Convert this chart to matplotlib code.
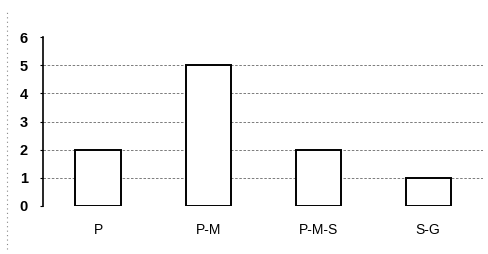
import matplotlib
matplotlib.use("Agg")
import matplotlib.pyplot as plt

categories = ["P", "P-M", "P-M-S", "S-G"]
values = [2, 5, 2, 1]
y_ticks = [0, 1, 2, 3, 4, 5, 6]

plt.rcParams['font.family'] = ['Liberation Sans', 'DejaVu Sans']

fig = plt.figure(figsize=(4.89, 2.54), dpi=100)
ax = fig.add_axes([0.088, 0.189, 0.900, 0.665])

x = list(range(len(categories)))
ax.bar(x, values, width=0.41, color="white", edgecolor="black", linewidth=1.4, zorder=3)

ax.set_ylim(0, 6)
ax.set_xlim(-0.5, len(categories) - 0.5)
ax.set_yticks(y_ticks)
ax.set_yticklabels([str(t) for t in y_ticks], fontsize=10.5, fontweight="bold")
ax.set_xticks(x)
ax.set_xticklabels(categories, fontsize=10)
ax.tick_params(axis="x", length=0, pad=12)
ax.tick_params(axis="y", length=2, width=0.8, pad=9)

for t in y_ticks[:-1]:
    ax.axhline(t, color="#666666", linestyle=(0, (3, 2)), linewidth=0.6, zorder=1)

for side in ["top", "right"]:
    ax.spines[side].set_visible(False)
ax.spines["bottom"].set_visible(False)
ax.spines["left"].set_linewidth(1.2)

# faint dotted border line at the left edge of the scan
fig.add_artist(plt.Line2D([0.015, 0.015], [0.02, 0.96], transform=fig.transFigure,
                          color="#888888", linestyle=(0, (1, 3)), linewidth=0.8))

fig.savefig("out.png", dpi=100)
